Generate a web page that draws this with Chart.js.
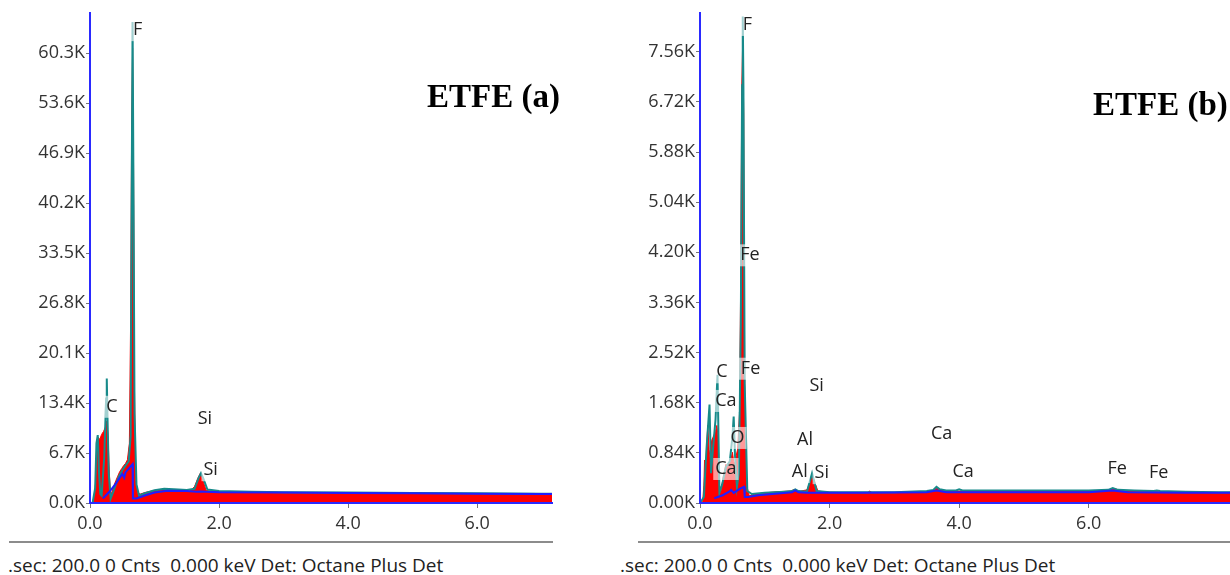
<!DOCTYPE html>
<html><head><meta charset="utf-8">
<script src="https://cdn.jsdelivr.net/npm/chart.js@4/dist/chart.umd.min.js"></script>
<style>
html,body{margin:0;padding:0;background:#fff;width:1230px;height:575px;overflow:hidden;position:relative;font-family:"Open Sans",sans-serif;}
canvas{position:absolute;top:0;}
.title{position:absolute;font:bold 33px "Liberation Serif",serif;color:#000;white-space:nowrap;}
.rule{position:absolute;top:541px;height:2px;background:#8c8c8c;}
.foot{position:absolute;top:552px;font-size:19px;color:#222;white-space:nowrap;}
</style></head><body>
<canvas id="ca" width="560" height="535" style="left:0"></canvas>
<canvas id="cb" width="620" height="535" style="left:610px"></canvas>
<div class="title" style="left:427px;top:78px">ETFE (a)</div>
<div class="title" style="left:1093px;top:86px">ETFE (b)</div>
<div class="rule" style="left:9px;width:544px"></div>
<div class="rule" style="left:638px;width:592px"></div>
<div class="foot" style="left:8px">.sec: 200.0 0 Cnts&nbsp; 0.000 keV Det: Octane Plus Det</div>
<div class="foot" style="left:620px">.sec: 200.0 0 Cnts&nbsp; 0.000 keV Det: Octane Plus Det</div>
<script>
// ---------- Spectrum (a) ----------
const redA_E = [0.00,0.03,0.06,0.09,0.11,0.13,0.15,0.18,0.21,0.24,0.26,0.28,0.30,0.32,0.34,0.37,0.40,0.43,0.46,0.49,0.52,0.55,0.58,0.61,0.63,0.645,0.66,0.675,0.69,0.71,0.74,0.78,0.85,0.95,1.05,1.15,1.25,1.35,1.45,1.55,1.62,1.67,1.71,1.75,1.80,1.90,2.2,2.6,3.0,3.5,4.0,4.5,5.0,5.5,6.0,6.5,7.0,7.2];
const redA_C = [0,0,600,3000,7500,8800,8500,9200,9600,10200,11000,9000,4000,1000,1500,2300,3000,3600,4200,4600,5000,5300,5800,8000,25000,50000,61000,45000,15000,3000,1300,1200,1400,1600,1700,1750,1700,1650,1600,1600,2200,3300,4000,3000,1700,1550,1500,1450,1400,1350,1300,1300,1250,1250,1200,1200,1200,1200];
const tealA_E = [0.00,0.04,0.08,0.10,0.12,0.14,0.16,0.18,0.22,0.25,0.26,0.27,0.29,0.32,0.36,0.40,0.45,0.50,0.55,0.60,0.63,0.645,0.66,0.675,0.69,0.72,0.76,0.85,1.0,1.15,1.3,1.5,1.62,1.68,1.72,1.76,1.82,2.0,2.5,3,4,5,6,7,7.2];
const tealA_C = [0,0,2000,8000,9100,4000,1200,1000,6000,14000,16700,12000,4000,600,1500,2500,3600,4400,5000,5600,9000,40000,64500,40000,12000,2500,1000,1300,1700,1900,1850,1750,1900,3300,4000,3200,1800,1600,1500,1450,1400,1350,1300,1250,1250];
const blueA_E = [0.20,0.30,0.40,0.50,0.53,0.55,0.60,0.66,0.665,0.72,0.85,1.0,1.2,1.5,1.65,1.72,1.80,2.0,3,4,5,6,7,7.2];
const blueA_C = [600,1500,2600,3900,3400,4100,4600,5200,600,600,1000,1400,1650,1600,1500,1550,1500,1450,1400,1350,1300,1250,1200,1200];
const yTicksA = [0,6700,13400,20100,26800,33500,40200,46900,53600,60300];
const labelsA_T = ["F","C","Si","Si"];
const labelsA_E = [0.74,0.34,1.78,1.87];
const labelsA_C = [63400,12900,11300,4400];

// ---------- Spectrum (b) ----------
const redB_E = [0,0.04,0.06,0.07,0.08,0.10,0.12,0.14,0.16,0.18,0.20,0.22,0.24,0.26,0.28,0.30,0.32,0.36,0.40,0.44,0.48,0.50,0.52,0.54,0.56,0.58,0.61,0.63,0.645,0.66,0.675,0.69,0.72,0.76,0.85,1.0,1.2,1.4,1.44,1.47,1.50,1.55,1.65,1.70,1.73,1.77,1.82,2.0,2.4,2.58,2.62,2.66,3.0,3.4,3.6,3.65,3.7,3.8,4.0,4.5,5,5.5,6.0,6.3,6.4,6.5,7.0,7.5,8.0,8.2];
const redB_C = [0,0,300,720,300,900,1300,900,700,1050,1100,1150,1200,1300,1100,300,170,450,650,600,750,850,700,650,800,900,1500,4000,7000,7800,6500,2000,300,120,150,170,190,200,220,230,210,200,220,350,480,350,200,180,170,170,200,170,170,180,200,250,220,200,200,200,200,200,200,210,240,210,190,180,170,170];
const tealB_E = [0,0.06,0.10,0.147,0.17,0.20,0.24,0.27,0.30,0.34,0.40,0.46,0.50,0.52,0.54,0.57,0.60,0.63,0.65,0.66,0.67,0.69,0.73,0.8,1.0,1.3,1.42,1.47,1.52,1.65,1.73,1.80,2.0,2.5,3.0,3.5,3.6,3.65,3.7,3.8,3.95,4.0,4.05,4.5,5,6.0,6.3,6.37,6.45,6.7,7.0,7.05,7.1,7.5,8.0,8.2];
const tealB_C = [0,100,900,1650,500,900,1400,2150,170,300,600,700,1100,1450,800,270,500,3000,7000,8150,7000,2000,200,150,170,190,200,230,200,190,500,200,180,180,180,200,220,270,230,210,210,230,210,210,210,210,220,250,220,210,200,210,200,190,180,180];
const blueB_E = [0.22,0.35,0.45,0.48,0.52,0.56,0.62,0.68,0.69,0.74,0.9,1.2,1.42,1.47,1.52,1.65,1.73,1.80,2.5,3.5,3.65,3.8,4.5,6.0,6.37,6.6,7.5,8.2];
const blueB_C = [80,130,190,220,170,200,240,270,100,100,130,160,180,210,180,170,170,170,170,180,210,180,180,180,210,180,170,170];
const yTicksB = [0,840,1680,2520,3360,4200,5040,5880,6720,7560];
const labelsB_T = ["F","Fe","C","Fe","Si","Ca","O","Al","Ca","Al","Si","Ca","Ca","Fe","Fe"];
const labelsB_E = [0.73,0.77,0.34,0.78,1.80,0.40,0.58,1.62,0.40,1.54,1.88,3.73,4.06,6.44,7.08];
const labelsB_C = [8010,4150,2190,2250,1970,1710,1090,1060,570,520,500,1160,520,570,500];

const xTicks = [0, 2, 4, 6];

const pts = (E, C) => E.map((e, i) => ({x: e, y: C[i]}));

const labelPlugin = {
  id: 'elemLabels',
  afterDatasetsDraw(chart, args, opts) {
    const {ctx} = chart; const xs = chart.scales.x, ys = chart.scales.y;
    ctx.save();
    ctx.font = '18px "Open Sans"';
    ctx.textAlign = 'center'; ctx.textBaseline = 'middle';
    opts.text.forEach((t, i) => {
      const px = xs.getPixelForValue(opts.e[i]), py = ys.getPixelForValue(opts.c[i]);
      const w = ctx.measureText(t).width + 4;
      ctx.fillStyle = 'rgba(255,255,255,0.6)';
      ctx.fillRect(px - w / 2, py - 11, w, 22);
      ctx.fillStyle = '#222';
      ctx.fillText(t, px, py);
    });
    ctx.restore();
  }
};

function makeChart(id, red, teal, blue, xMax, yMax, yTicks, dec, labels) {
  return new Chart(document.getElementById(id), {
    type: 'line',
    data: { datasets: [
      { data: blue, borderColor: '#1f1fff', borderWidth: 2, pointRadius: 0, fill: false, order: 1 },
      { data: teal, borderColor: '#178a8a', borderWidth: 2, pointRadius: 0, fill: false, order: 2 },
      { data: red, borderColor: '#ff0000', backgroundColor: '#ff0000', borderWidth: 1, pointRadius: 0, fill: 'origin', order: 3 }
    ]},
    options: {
      responsive: false, animation: false, devicePixelRatio: 1,
      layout: { padding: { top: 13, right: id === 'ca' ? 8 : 0, bottom: 0, left: 0 } },
      plugins: { legend: { display: false }, tooltip: { enabled: false }, elemLabels: labels },
      scales: {
        x: { type: 'linear', min: 0, max: xMax,
          afterBuildTicks: s => { s.ticks = xTicks.map(v => ({ value: v })); },
          afterFit: s => { s.height = 32; },
          border: { color: '#2a2aff', width: 2, z: 1 },
          grid: { drawOnChartArea: false, tickLength: 5, color: '#777' },
          ticks: { padding: 5, color: '#333', font: { family: 'Open Sans', size: 18 },
                   callback: v => Number(v).toFixed(1), maxRotation: 0, autoSkip: false } },
        y: { type: 'linear', min: 0, max: yMax,
          afterBuildTicks: s => { s.ticks = yTicks.map(v => ({ value: v })); },
          afterFit: s => { s.width = 90; },
          border: { color: '#2a2aff', width: 2, z: 1 },
          grid: { drawOnChartArea: false, tickLength: 4, color: '#777' },
          ticks: { padding: 1, color: '#333', font: { family: 'Open Sans', size: 18 }, autoSkip: false,
                   callback: v => (Number(v) / 1000).toFixed(dec) + 'K' } }
      }
    },
    plugins: [labelPlugin]
  });
}

makeChart('ca', pts(redA_E, redA_C), pts(tealA_E, tealA_C), pts(blueA_E, blueA_C), 7.16, 65700, yTicksA, 1,
  { text: labelsA_T, e: labelsA_E, c: labelsA_C });
makeChart('cb', pts(redB_E, redB_C), pts(tealB_E, tealB_C), pts(blueB_E, blueB_C), 8.18, 8210, yTicksB, 2,
  { text: labelsB_T, e: labelsB_E, c: labelsB_C });
</script>
</body></html>
